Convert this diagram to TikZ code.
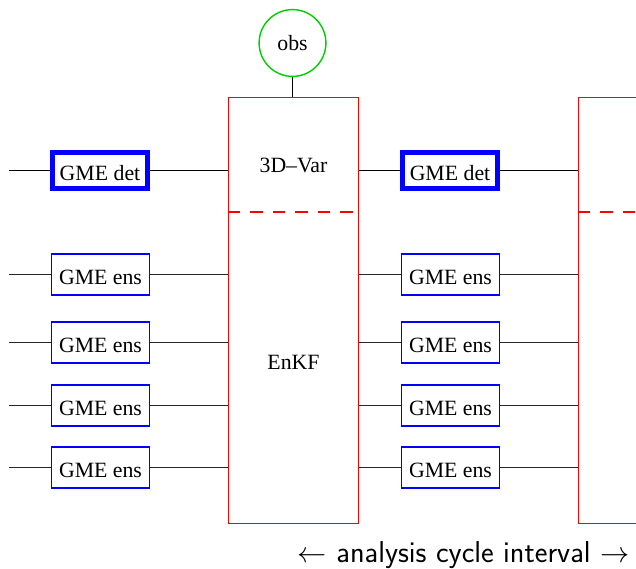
\documentclass[tikz,border=0pt]{standalone}
\usepackage{fontspec}
\setmainfont{Liberation Serif}
\usetikzlibrary{positioning}

\tikzset{
  boxfont/.style={font=\fontsize{15.5}{18}\selectfont},
  detbox/.style={draw=blue, line width=3.6pt, minimum width=2.375cm, minimum height=0.9cm, inner sep=0pt, text height=14.5pt, text depth=0pt, boxfont},
  ensbox/.style={draw=blue, line width=1pt, minimum width=2.44cm, minimum height=1.02cm, inner sep=0pt, text height=14.5pt, text depth=0pt, boxfont},
  anabox/.style={draw=red, line width=1pt, minimum width=3.25cm, minimum height=10.65cm, inner sep=0pt},
  obsnode/.style={circle, draw=green!80!black, line width=1pt, minimum size=1.67cm, inner sep=0pt, boxfont},
  detline/.style={black, line width=1.4pt},
  ensline/.style={black!85, line width=0.7pt},
}

\begin{document}
\begin{tikzpicture}[x=0.025cm, y=-0.025cm]
		\clip (0,0) rectangle (636,568);
		
		%analysis boxes
		\node[anabox] (ana1) at (293.5,310.5) {};
		\node[anabox] (ana2) at (643.5,310.5) {};
		\draw[red, line width=1pt, dash pattern=on 9pt off 7pt] (ana1.west |- 0,212) -- (ana1.east |- 0,212);
		\draw[red, line width=1pt, dash pattern=on 9pt off 7pt] (ana2.west |- 0,212) -- (ana2.east |- 0,212);
		\node[boxfont] (var1) at (293.5,165) {3D--Var};
		\node[boxfont] (enkf1) at (293.5,362) {EnKF};
		
		%observations
		\node[obsnode] (obs1) at (292.5,43) {obs};
		\draw[black, line width=0.7pt] (obs1.south) -- (obs1.south |- ana1.north);
		
		%first cycle
		\coordinate (in0) at (9,170.5);
		\coordinate (in1) at (9,274.5);
		\coordinate (in2) at (9,342.5);
		\coordinate (in3) at (9,405.5);
		\coordinate (in4) at (9,467.5);
		\node[detbox] (det1) at (100,170.5) {GME det};
		\node[ensbox] (ens11) at (100.5,274.5) {GME ens};
		\node[ensbox] (ens12) at (100.5,342.5) {GME ens};
		\node[ensbox] (ens13) at (100.5,405.5) {GME ens};
		\node[ensbox] (ens14) at (100.5,467.5) {GME ens};
		\draw[detline] (in0) -- (det1.west);
		\draw[detline] (det1.east) -- (det1.east -| ana1.west);
		\draw[ensline] (in1) -- (ens11.west);
		\draw[ensline] (in2) -- (ens12.west);
		\draw[ensline] (in3) -- (ens13.west);
		\draw[ensline] (in4) -- (ens14.west);
		\draw[ensline] (ens11.east) -- (ens11.east -| ana1.west);
		\draw[ensline] (ens12.east) -- (ens12.east -| ana1.west);
		\draw[ensline] (ens13.east) -- (ens13.east -| ana1.west);
		\draw[ensline] (ens14.east) -- (ens14.east -| ana1.west);
		
		%second cycle
		\node[detbox] (det2) at (450,170.5) {GME det};
		\node[ensbox] (ens21) at (450.5,274.5) {GME ens};
		\node[ensbox] (ens22) at (450.5,342.5) {GME ens};
		\node[ensbox] (ens23) at (450.5,405.5) {GME ens};
		\node[ensbox] (ens24) at (450.5,467.5) {GME ens};
		\draw[detline] (det2.west -| ana1.east) -- (det2.west);
		\draw[detline] (det2.east) -- (det2.east -| ana2.west);
		\draw[ensline] (ens21.west -| ana1.east) -- (ens21.west);
		\draw[ensline] (ens22.west -| ana1.east) -- (ens22.west);
		\draw[ensline] (ens23.west -| ana1.east) -- (ens23.west);
		\draw[ensline] (ens24.west -| ana1.east) -- (ens24.west);
		\draw[ensline] (ens21.east) -- (ens21.east -| ana2.west);
		\draw[ensline] (ens22.east) -- (ens22.east -| ana2.west);
		\draw[ensline] (ens23.east) -- (ens23.east -| ana2.west);
		\draw[ensline] (ens24.east) -- (ens24.east -| ana2.west);
		
		%interval
		\node[font=\fontsize{21.5}{24}\sffamily] (cycle) at (463.5,555) {$\leftarrow$ analysis cycle interval $\rightarrow$};
	
		\end{tikzpicture}
\end{document}
